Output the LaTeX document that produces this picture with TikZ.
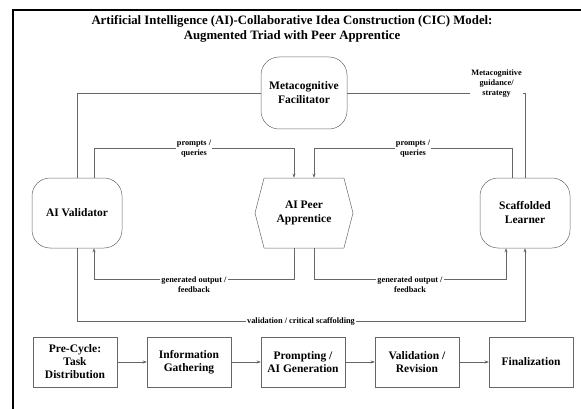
\documentclass[tikz,border=0pt]{standalone}
\usepackage{fontspec}
\setmainfont{Liberation Serif}
\usetikzlibrary{arrows.meta,shapes,positioning}
\tikzset{
  rloc/.style   = { draw=black!60, line width=0.5pt, rounded corners=18pt, minimum width=90pt,
    minimum height=70pt, align=center, font=\fontsize{11.5}{14}\selectfont\bfseries },
  hexloc/.style = { draw=black!60, line width=0.5pt, signal, signal to=east and west,
    signal pointer angle=151, minimum width=98pt, minimum height=70pt, align=center,
    font=\fontsize{11.5}{14}\selectfont\bfseries },
  stepbox/.style = { draw=black!60, line width=0.5pt, minimum width=84pt, minimum height=50pt,
    align=center, font=\fontsize{11.5}{13}\selectfont\bfseries },
  lbl/.style    = { fill=white, align=center, inner sep=1pt, font=\fontsize{8.3}{10}\selectfont\bfseries },
  ttl/.style    = { align=center, font=\fontsize{12.8}{15.5}\selectfont\bfseries },
  ln/.style     = { draw=black!60, line width=0.5pt }
}

\begin{document}
\begin{tikzpicture}[x=1pt,y=1pt,node distance=1cm,on grid,>={Stealth[length=4pt,width=3pt]}]
    \useasboundingbox (0,0) rectangle (581,-409);
    \draw[line width=1.8pt] (13,-409) -- (13,-10) -- (581,-10);
    \node[ttl] (ttl) at (292,-29) {Artificial Intelligence (AI)-Collaborative Idea Construction (CIC) Model:\\Augmented Triad with Peer Apprentice};
    % triad
    \node[rloc, minimum width=86pt, minimum height=72pt] (mf) at (304,-93) {Metacognitive\\Facilitator};
    \node[hexloc, below=120pt of mf] (ap) {AI Peer\\Apprentice};
    \node[rloc, left=227pt of ap] (av) {AI Validator};
    \node[rloc, right=221pt of ap] (sl) {Scaffolded\\Learner};
    \draw[ln] (mf.west) -| (av.north);
    \draw[ln] (mf.east) -| node[lbl, pos=0.42, yshift=9pt] {Metacognitive\\guidance/\\strategy} (sl.north);
    \draw[ln,->] ([xshift=17pt]av.north) -- ++(0,29) -| node[lbl, pos=0.25] {prompts /\\queries} ([xshift=-10pt]ap.north);
    \draw[ln,->] ([xshift=-13pt]sl.north) -- ++(0,29) -| node[lbl, pos=0.25] {prompts /\\queries} ([xshift=10pt]ap.north);
    \draw[ln,->] ([xshift=-10pt]ap.south) -- ++(0,-31) -| node[lbl, pos=0.25, yshift=-5pt] {generated output /\\feedback} ([xshift=17pt]av.south);
    \draw[ln,->] ([xshift=10pt]ap.south) -- ++(0,-31) -| node[lbl, pos=0.25, yshift=-5pt] {generated output /\\feedback} ([xshift=-19pt]sl.south);
    \draw[ln,->] (av.south) -- ++(0,-73) -| node[lbl, pos=0.25] {validation / critical scaffolding} (sl.south);
    % process row
    \node[stepbox] (s1) at (75,-362) {Pre-Cycle:\\Task\\Distribution};
    \node[stepbox, right=114pt of s1] (s2) {Information\\Gathering};
    \node[stepbox, right=114pt of s2] (s3) {Prompting /\\AI Generation};
    \node[stepbox, right=114pt of s3] (s4) {Validation /\\Revision};
    \node[stepbox, right=114pt of s4] (s5) {Finalization};
    \path[ln,->] (s1) edge (s2);
    \path[ln,->] (s2) edge (s3);
    \path[ln,->] (s3) edge (s4);
    \path[ln,->] (s4) edge (s5);
  \end{tikzpicture}
\end{document}
